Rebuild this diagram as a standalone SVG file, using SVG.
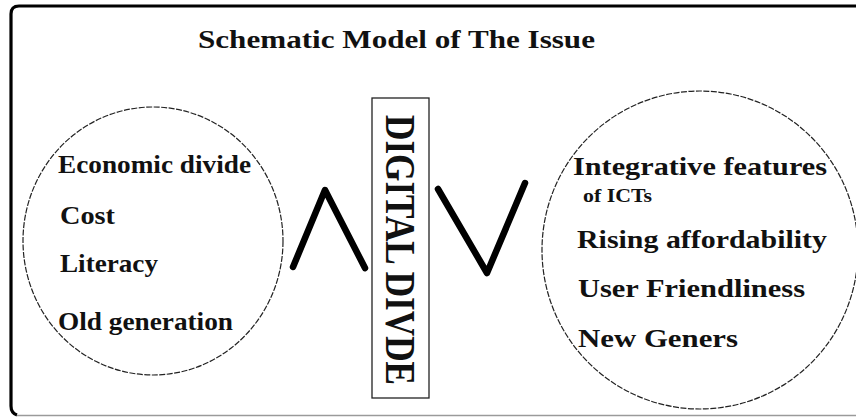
<svg xmlns="http://www.w3.org/2000/svg" width="856" height="417" viewBox="0 0 856 417">
<style>
.t{font-family:"Liberation Serif","Times New Roman",serif;font-weight:bold;fill:#111;}
.c{fill:none;stroke:#222;stroke-width:1.2;stroke-dasharray:6 1.5;}
.sym{fill:none;stroke:#000;stroke-width:6.5;stroke-linecap:round;stroke-linejoin:round;}
</style>
<rect x="0" y="0" width="856" height="417" fill="#fff"/>
<g id="frame">
<path d="M856,6 H19 Q11,6 11,14 V406 Q11,413 17,415" fill="none" stroke="#000" stroke-width="3.2"/>
<line x1="17" y1="415.5" x2="856" y2="415.5" stroke="#9a9a9a" stroke-width="1.5"/>
</g>
<g id="title">
<text class="t" x="198" y="48" font-size="25" textLength="397" lengthAdjust="spacingAndGlyphs">Schematic Model of The Issue</text>
</g>
<g id="left-circle">
<ellipse class="c" cx="153" cy="241" rx="130" ry="134"/>
<text class="t" x="58" y="173" font-size="25" textLength="193" lengthAdjust="spacingAndGlyphs">Economic divide</text>
<text class="t" x="60" y="224" font-size="25" textLength="55" lengthAdjust="spacingAndGlyphs">Cost</text>
<text class="t" x="60" y="272" font-size="25" textLength="98" lengthAdjust="spacingAndGlyphs">Literacy</text>
<text class="t" x="58" y="330" font-size="25" textLength="175" lengthAdjust="spacingAndGlyphs">Old generation</text>
</g>
<g id="digital-divide">
<rect x="372" y="98" width="57" height="300" fill="#fff" stroke="#222" stroke-width="1.3"/>
<text class="t" transform="translate(386,115) rotate(90)" x="0" y="0" font-size="42" textLength="270" lengthAdjust="spacingAndGlyphs">DIGITAL DIVDE</text>
</g>
<g id="connectors">
<polyline class="sym" points="293,267 325,190 365,268"/>
<polyline class="sym" points="438,189 487,273 525,183"/>
</g>
<g id="right-circle">
<ellipse class="c" cx="700" cy="250" rx="158" ry="159"/>
<text class="t" x="573" y="175" font-size="26" textLength="254" lengthAdjust="spacingAndGlyphs">Integrative features</text>
<text class="t" x="583" y="202" font-size="19" textLength="69" lengthAdjust="spacingAndGlyphs">of ICTs</text>
<text class="t" x="577" y="248" font-size="26" textLength="250" lengthAdjust="spacingAndGlyphs">Rising affordability</text>
<text class="t" x="578" y="297" font-size="26" textLength="227" lengthAdjust="spacingAndGlyphs">User Friendliness</text>
<text class="t" x="578" y="347" font-size="26" textLength="160" lengthAdjust="spacingAndGlyphs">New Geners</text>
</g>
</svg>
